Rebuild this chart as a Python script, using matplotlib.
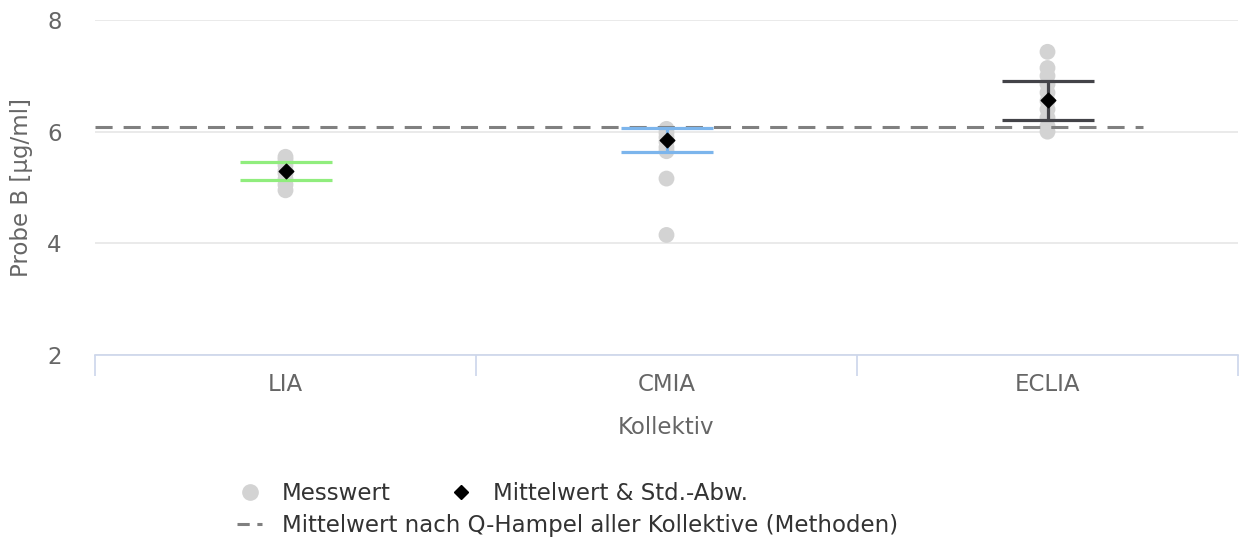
import matplotlib.pyplot as plt
from matplotlib.lines import Line2D

# Data
categories = ['LIA', 'CMIA', 'ECLIA']
lia_values = [5.55, 5.50, 5.40, 5.30, 5.25, 5.15, 5.05, 4.95]
cmia_values = [6.05, 5.98, 5.90, 5.82, 5.72, 5.65, 5.16, 4.15]
eclia_values = [7.43, 7.14, 7.00, 6.85, 6.70, 6.55, 6.40, 6.25, 6.10, 6.00]
means = [5.30, 5.855, 6.56]
stds = [0.16, 0.215, 0.35]
hampel_mean = 6.09
bar_colors = ['#90ed7d', '#7cb5ec', '#434348']

plt.rcParams['font.family'] = ['DejaVu Sans']
fs = 16.5

fig = plt.figure(figsize=(12.41, 5.41), dpi=100)
ax = fig.add_axes([95 / 1241, 1 - 355 / 541, (1238 - 95) / 1241, (355 - 20) / 541])

# measured values
for i, vals in enumerate([lia_values, cmia_values, eclia_values]):
    ax.scatter([i] * len(vals), vals, s=130, color='#d3d3d3', edgecolors='none', zorder=2)

# Q-Hampel mean line
ax.plot([-0.5, 2.25], [hampel_mean, hampel_mean], color='#808080', lw=2.2,
        dashes=(5.6, 3.6), zorder=3)

# mean and std. deviation
for i in range(len(categories)):
    ax.errorbar(i, means[i], yerr=stds[i], fmt='none', ecolor=bar_colors[i],
                elinewidth=2.3, capsize=33, capthick=2.3, zorder=4)
ax.scatter(range(len(categories)), means, marker='D', s=55, color='black', zorder=5)

ax.set_xlim(-0.5, 2.5)
ax.set_ylim(2, 8)
ax.set_yticks([2, 4, 6, 8])
ax.set_xticks(range(len(categories)))
ax.set_xticklabels(categories)
ax.set_xticks([-0.5, 0.5, 1.5, 2.5], minor=True)

ax.grid(axis='y', color='#e6e6e6', lw=1.2)
ax.set_axisbelow(True)
for s in ['top', 'right', 'left']:
    ax.spines[s].set_visible(False)
ax.spines['bottom'].set_color('#ccd6eb')
ax.spines['bottom'].set_linewidth(1.2)

ax.tick_params(axis='y', length=0, pad=24, labelsize=fs, labelcolor='#666666')
ax.tick_params(axis='x', which='major', length=0, pad=13, labelsize=fs, labelcolor='#666666')
ax.tick_params(axis='x', which='minor', length=15, width=1.2, color='#ccd6eb')

ax.set_ylabel('Probe B [µg/ml]', fontsize=fs, color='#666666', labelpad=10)
ax.set_xlabel('Kollektiv', fontsize=fs, color='#666666', labelpad=14)

# legend
h1 = Line2D([], [], marker='o', ls='none', color='#d3d3d3', markersize=11)
h2 = Line2D([], [], marker='D', ls='none', color='black', markersize=7)
h3 = Line2D([], [], color='#808080', lw=2.2, dashes=(4, 2.5))
fig.legend([h1, h2], ['Messwert', 'Mittelwert & Std.-Abw.'], ncol=2,
           loc='upper left', bbox_to_anchor=(228 / 1241, 1 - 473 / 541),
           frameon=False, fontsize=fs, handlelength=1.1, handletextpad=0.85,
           columnspacing=2.5, borderaxespad=0, labelcolor='#333333')
fig.legend([h3], ['Mittelwert nach Q-Hampel aller Kollektive (Methoden)'],
           loc='upper left', bbox_to_anchor=(228 / 1241, 1 - 505 / 541),
           frameon=False, fontsize=fs, handlelength=1.1, handletextpad=0.85,
           borderaxespad=0, labelcolor='#333333')

fig.savefig('out.png', dpi=100)
